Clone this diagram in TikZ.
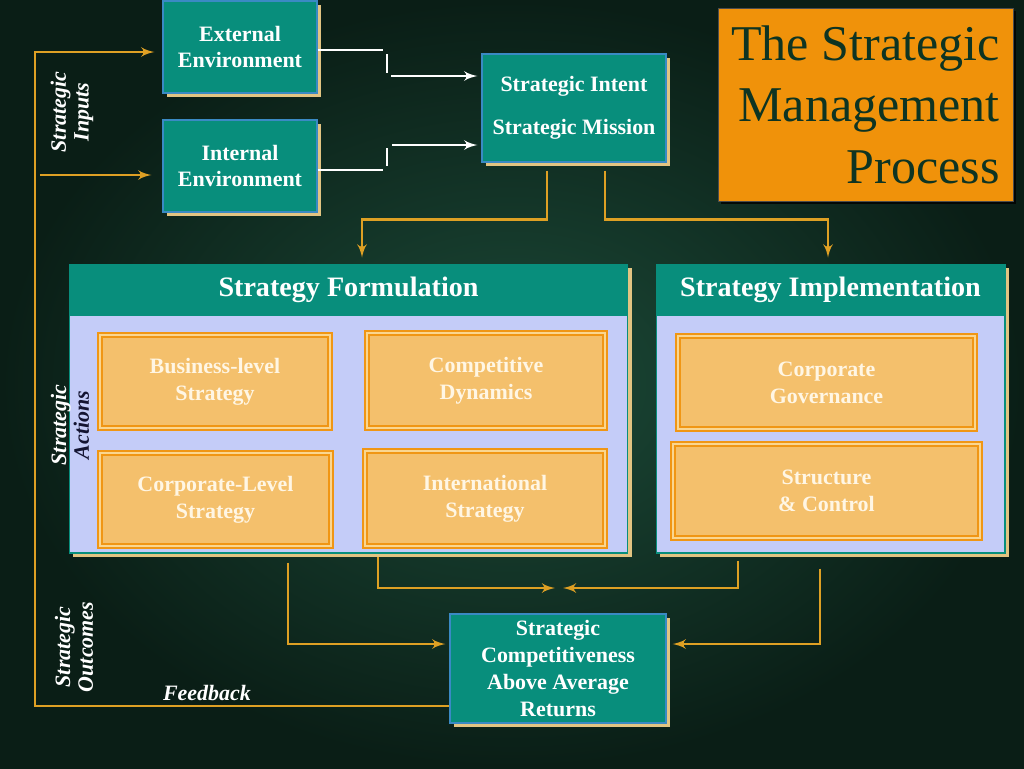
\documentclass[tikz,border=0pt]{standalone}
\usepackage{fontspec}
\setmainfont{Liberation Serif}
\usepackage{tikz}
\usetikzlibrary{arrows, positioning, shadows}

\definecolor{bgin}{RGB}{28,74,56}
\definecolor{bgout}{RGB}{10,30,22}
\definecolor{tealfill}{RGB}{8,142,124}
\definecolor{tealedge}{RGB}{58,138,196}
\definecolor{beige}{RGB}{226,196,130}
\definecolor{lavender}{RGB}{196,204,248}
\definecolor{orfill}{RGB}{244,192,108}
\definecolor{oredge}{RGB}{240,150,20}
\definecolor{orlight}{RGB}{250,214,144}
\definecolor{conn}{RGB}{222,160,36}
\definecolor{titlefill}{RGB}{240,146,10}
\definecolor{titletext}{RGB}{14,52,34}
\definecolor{cream}{RGB}{255,246,228}
\definecolor{navyish}{RGB}{20,20,50}

\begin{document}
\begin{tikzpicture}[x=0.02cm, y=-0.02cm, node distance=1cm, auto]
		\tikzstyle{tealbox} = [rectangle, draw=tealedge, line width=0.8pt, fill=tealfill, text=white, align=center, font=\fontsize{12.5}{15.3}\selectfont\bfseries, drop shadow={shadow xshift=0.08cm, shadow yshift=-0.08cm, fill=beige, opacity=1}]
		\tikzstyle{panel} = [rectangle, draw=tealfill, line width=0.6pt, fill=lavender, minimum height=5.78cm, drop shadow={shadow xshift=0.08cm, shadow yshift=-0.08cm, fill=beige, opacity=1}]
		\tikzstyle{panelhead} = [rectangle, fill=tealfill, text=white, minimum height=1.04cm, font=\fontsize{16}{19}\selectfont\bfseries]
		\tikzstyle{orbox} = [rectangle, draw=oredge, line width=1.3pt, double=orlight, double distance=0.7pt, fill=orfill, text=cream, align=center, font=\fontsize{12.5}{15.3}\selectfont\bfseries]
		\tikzstyle{sidelabel} = [rotate=90, text=white, align=center, font=\fontsize{12.5}{13}\selectfont\bfseries\itshape]
		\tikzstyle{oline} = [draw=conn, line width=1.6pt, -latex']
		\tikzstyle{wline} = [draw=white, line width=1.6pt]

		\useasboundingbox (0,0) rectangle (1024,768);
		\shade[inner color=bgin, outer color=bgout] (0,0) rectangle (1024,768);

		\node [tealbox, minimum width=3.08cm, minimum height=1.84cm] (ext) at (240,47) {External\\Environment};
		\node [tealbox, minimum width=3.08cm, minimum height=1.84cm] (int) at (240,166) {Internal\\Environment};
		\node [tealbox, minimum width=3.68cm, minimum height=2.16cm] (intent) at (574,108) {Strategic Intent\\[9pt]Strategic Mission};
		\node [rectangle, draw=black!70, fill=titlefill, text=titletext, font=\fontsize{28.5}{35}\selectfont, align=right, minimum width=5.9cm, minimum height=3.86cm, drop shadow={shadow xshift=0.06cm, shadow yshift=-0.06cm, fill=black, opacity=0.8}] (title) at (865.5,104.5) {The Strategic\\Management\\Process};

		\node [panel, minimum width=11.18cm] (form) at (348.5,408.5) {};
		\node [panelhead, minimum width=11.18cm, below=0pt of form.north] (formhead) {Strategy Formulation};
		\node [panel, minimum width=6.98cm] (impl) at (830.5,408.5) {};
		\node [panelhead, minimum width=6.98cm, below=0pt of impl.north] (implhead) {Strategy Implementation};

		\node [orbox, minimum width=4.6cm, minimum height=1.86cm] (bus) at (215,381.5) {Business-level\\Strategy};
		\node [orbox, minimum width=4.76cm, minimum height=1.9cm] (comp) at (486,380.5) {Competitive\\Dynamics};
		\node [orbox, minimum width=4.62cm, minimum height=1.86cm] (corp) at (215.5,499.5) {Corporate-Level\\Strategy};
		\node [orbox, minimum width=4.8cm, minimum height=1.9cm] (intl) at (485,498.5) {International\\Strategy};
		\node [orbox, minimum width=5.94cm, minimum height=1.86cm] (gov) at (826.5,382.5) {Corporate\\Governance};
		\node [orbox, minimum width=6.14cm, minimum height=1.88cm] (struct) at (826.5,491) {Structure\\\& Control};

		\node [tealbox, minimum width=4.32cm, minimum height=2.18cm] (compet) at (558,668.5) {Strategic\\Competitiveness\\Above Average\\Returns};

		\node [sidelabel] (inputslbl) at (72,112) {Strategic\\Inputs};
		\node [sidelabel] (actionslbl) at (70,425) {Strategic\\\textcolor{navyish}{Actions}};
		\node [sidelabel] (outcomeslbl) at (74,647) {Strategic\\Outcomes};
		\node [text=white, font=\fontsize{12.5}{15}\selectfont\bfseries\itshape] (fbtext) at (207,693) {Feedback};

		\coordinate (ebend) at (387,50);
		\coordinate (ibend) at (387,170);
		\coordinate (eout) at (391,76);
		\coordinate (iout) at (392,145);
		\draw [wline] (ext.east |- ebend) -- ([xshift=-0.08cm]ebend);
		\draw [wline] ([yshift=-0.08cm]ebend) -- ([yshift=-0.46cm]ebend);
		\draw [wline, -latex'] (eout) -- ([xshift=-0.08cm]intent.west |- eout);
		\draw [wline] (int.east |- ibend) -- ([xshift=-0.08cm]ibend);
		\draw [wline] ([yshift=0.08cm]ibend) -- ([yshift=0.44cm]ibend);
		\draw [wline, -latex'] (iout) -- ([xshift=-0.08cm]intent.west |- iout);

		\draw [oline] ([shift={(-0.54cm,-0.16cm)}]intent.south) |- ([shift={(0.27cm,0.88cm)}]form.north) -- ([shift={(0.27cm,0.12cm)}]form.north);
		\draw [oline] ([shift={(0.62cm,-0.16cm)}]intent.south) |- ([shift={(-0.05cm,0.88cm)}]impl.north) -- ([shift={(-0.05cm,0.12cm)}]impl.north);

		\coordinate (merge) at (559,588);
		\draw [oline] ([shift={(-1.21cm,-0.18cm)}]form.south) |- ([shift={(-0.08cm,0.49cm)}]compet.west);
		\draw [oline] ([shift={(0.59cm,-0.06cm)}]form.south) |- ([xshift=-0.08cm]merge);
		\draw [oline] ([shift={(-1.85cm,-0.14cm)}]impl.south) |- ([xshift=0.08cm]merge);
		\draw [oline] ([shift={(-0.21cm,-0.3cm)}]impl.south) |- ([shift={(0.12cm,0.49cm)}]compet.east);

		\coordinate (loop) at (35,706);
		\draw [oline] (compet.west |- loop) -- (loop) |- ([shift={(-0.16cm,-0.1cm)}]ext.west);
		\draw [oline] ([shift={(0.1cm,-0.18cm)}]loop |- int.west) -- ([shift={(-0.22cm,-0.18cm)}]int.west);
	\end{tikzpicture}
\end{document}
